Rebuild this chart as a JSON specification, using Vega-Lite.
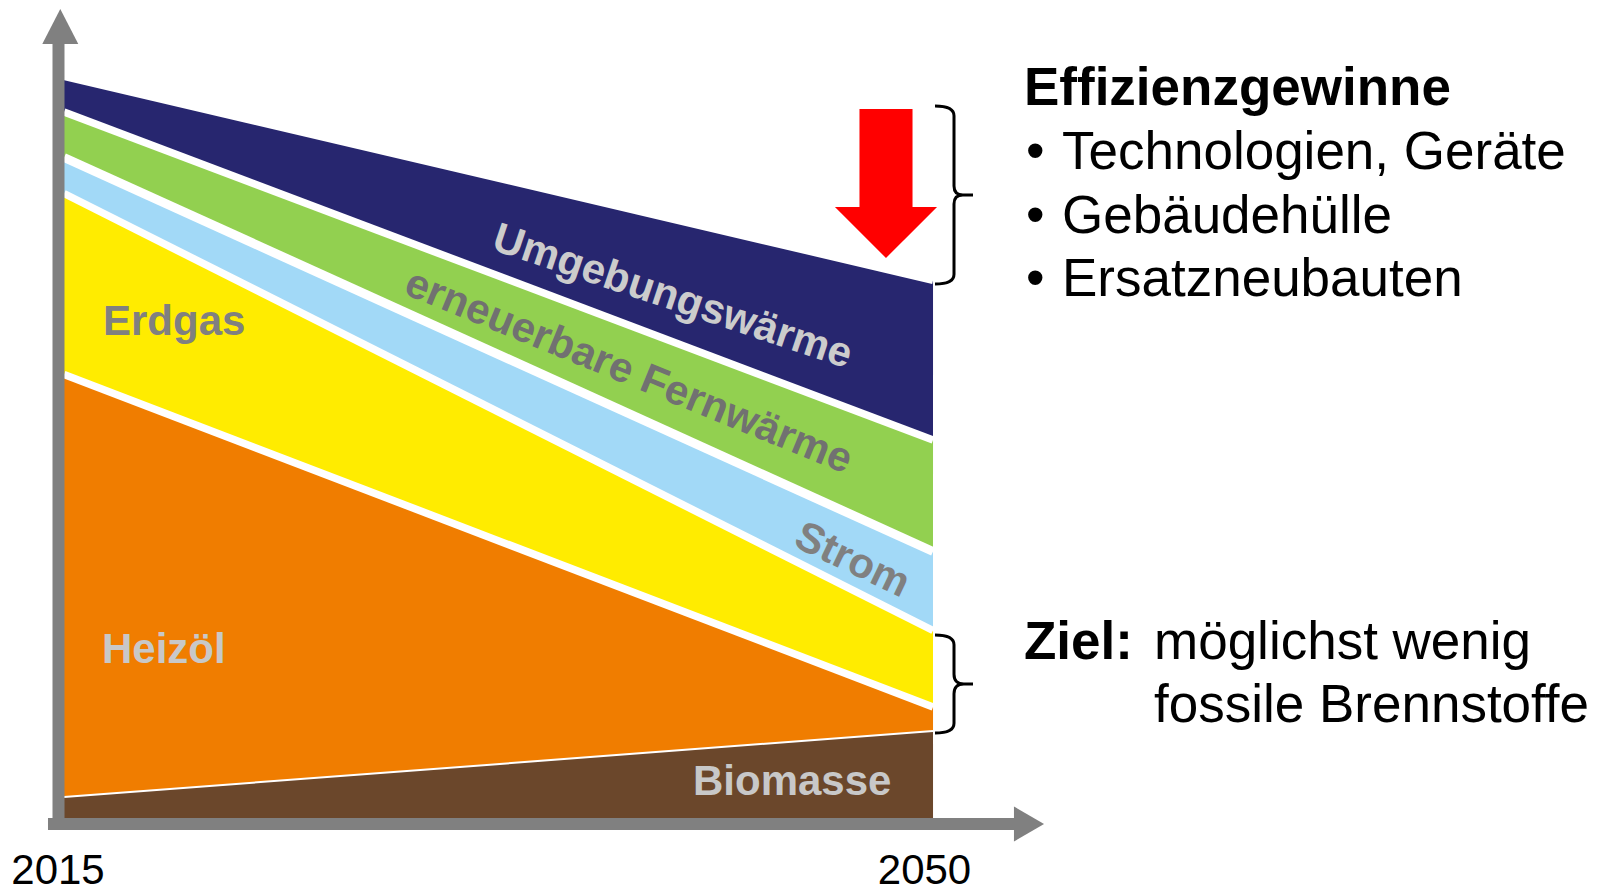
{
  "$schema": "https://vega.github.io/schema/vega-lite/v6.json",
  "width": 1601,
  "height": 893,
  "autosize": "none",
  "padding": 0,
  "background": "#ffffff",
  "config": {"view": {"stroke": null}},
  "datasets": {
    "energy": [
      {"year": 2015, "series": "Biomasse", "ord": 1, "value": 21},
      {"year": 2015, "series": "Heizöl", "ord": 2, "value": 422.5},
      {"year": 2015, "series": "Erdgas", "ord": 3, "value": 181},
      {"year": 2015, "series": "Strom", "ord": 4, "value": 36},
      {"year": 2015, "series": "erneuerbare Fernwärme", "ord": 5, "value": 45.5},
      {"year": 2015, "series": "Umgebungswärme", "ord": 6, "value": 35.75},
      {"year": 2050, "series": "Biomasse", "ord": 1, "value": 87},
      {"year": 2050, "series": "Heizöl", "ord": 2, "value": 24},
      {"year": 2050, "series": "Erdgas", "ord": 3, "value": 76.5},
      {"year": 2050, "series": "Strom", "ord": 4, "value": 79},
      {"year": 2050, "series": "erneuerbare Fernwärme", "ord": 5, "value": 111.5},
      {"year": 2050, "series": "Umgebungswärme", "ord": 6, "value": 159.75}
    ]
  },
  "layer": [
    {
      "data": {"name": "energy"},
      "transform": [{"stack": "value", "groupby": ["year"], "sort": [{"field": "ord", "order": "ascending"}], "as": ["v0", "v1"]}],
      "mark": {"type": "area", "opacity": 1},
      "encoding": {
        "x": {"field": "year", "type": "quantitative", "scale": {"domain": [2012.422, 2076.903], "nice": false, "zero": false}, "axis": null},
        "y": {"field": "v1", "type": "quantitative", "scale": {"domain": [-75, 818], "nice": false, "zero": false}, "axis": null},
        "y2": {"field": "v0"},
        "color": {"field": "series", "type": "nominal", "scale": {"domain": ["Biomasse", "Heizöl", "Erdgas", "Strom", "erneuerbare Fernwärme", "Umgebungswärme"], "range": ["#6b472b", "#f07d00", "#ffec00", "#a2d9f7", "#92d050", "#27266f"]}, "legend": null}
      }
    },
    {
      "data": {"name": "energy"},
      "transform": [{"stack": "value", "groupby": ["year"], "sort": [{"field": "ord", "order": "ascending"}], "as": ["v0", "v1"]}],
      "mark": {"type": "line", "color": "#ffffff", "strokeCap": "butt"},
      "encoding": {
        "x": {"field": "year", "type": "quantitative", "scale": {"domain": [2012.422, 2076.903], "nice": false, "zero": false}, "axis": null},
        "y": {"field": "v1", "type": "quantitative", "scale": {"domain": [-75, 818], "nice": false, "zero": false}, "axis": null},
        "detail": {"field": "series", "type": "nominal"},
        "strokeWidth": {"condition": [{"test": "datum.series === 'Biomasse'", "value": 2}, {"test": "datum.series === 'Strom'", "value": 9}], "value": 7.5}
      }
    },
    {
      "data": {"values": [{"x": 2014.778, "y": -12, "y2": 778}]},
      "mark": {"type": "rule", "color": "#808080", "strokeWidth": 12},
      "encoding": {
        "x": {"field": "x", "type": "quantitative", "scale": {"domain": [2012.422, 2076.903], "nice": false, "zero": false}, "axis": null},
        "y": {"field": "y", "type": "quantitative", "scale": {"domain": [-75, 818], "nice": false, "zero": false}, "axis": null},
        "y2": {"field": "y2"}
      }
    },
    {
      "data": {"values": [{"x": 2014.355, "x2": 2053.463, "y": -6}]},
      "mark": {"type": "rule", "color": "#808080", "strokeWidth": 12},
      "encoding": {
        "x": {"field": "x", "type": "quantitative", "scale": {"domain": [2012.422, 2076.903], "nice": false, "zero": false}, "axis": null},
        "x2": {"field": "x2"},
        "y": {"field": "y", "type": "quantitative", "scale": {"domain": [-75, 818], "nice": false, "zero": false}, "axis": null}
      }
    },
    {
      "data": {"values": [{"x": 2014.85, "y": 791.5}]},
      "mark": {"type": "point", "shape": "M-1,0.97L0,-0.97L1,0.97Z", "filled": true, "color": "#808080", "opacity": 1, "size": 1296, "strokeWidth": 0},
      "encoding": {
        "x": {"field": "x", "type": "quantitative", "scale": {"domain": [2012.422, 2076.903], "nice": false, "zero": false}, "axis": null},
        "y": {"field": "y", "type": "quantitative", "scale": {"domain": [-75, 818], "nice": false, "zero": false}, "axis": null}
      }
    },
    {
      "data": {"values": [{"x": 2053.866, "y": -6}]},
      "mark": {"type": "point", "shape": "M-0.86,-1L0.86,0L-0.86,1Z", "filled": true, "color": "#808080", "opacity": 1, "size": 1225, "strokeWidth": 0},
      "encoding": {
        "x": {"field": "x", "type": "quantitative", "scale": {"domain": [2012.422, 2076.903], "nice": false, "zero": false}, "axis": null},
        "y": {"field": "y", "type": "quantitative", "scale": {"domain": [-75, 818], "nice": false, "zero": false}, "axis": null}
      }
    },
    {
      "data": {"values": [{"x": 2048.106, "y": 634.5}]},
      "mark": {"type": "point", "shape": "M-0.356,-1L0.356,-1L0.356,0.315L0.685,0.315L0,1L-0.685,0.315L-0.356,0.315Z", "filled": true, "color": "#ff0000", "opacity": 1, "size": 22201, "strokeWidth": 0},
      "encoding": {
        "x": {"field": "x", "type": "quantitative", "scale": {"domain": [2012.422, 2076.903], "nice": false, "zero": false}, "axis": null},
        "y": {"field": "y", "type": "quantitative", "scale": {"domain": [-75, 818], "nice": false, "zero": false}, "axis": null}
      }
    },
    {
      "data": {"values": [{"x": 2050.845, "y": 623}]},
      "mark": {"type": "point", "shape": "M-0.2135,-1Q0,-1 0,-0.89L0,-0.1Q0,0 0.1,0L0.2135,0M0.1,0Q0,0 0,0.1L0,0.89Q0,1 -0.2135,1", "filled": false, "color": "#000000", "opacity": 1, "size": 31684, "strokeWidth": 3},
      "encoding": {
        "x": {"field": "x", "type": "quantitative", "scale": {"domain": [2012.422, 2076.903], "nice": false, "zero": false}, "axis": null},
        "y": {"field": "y", "type": "quantitative", "scale": {"domain": [-75, 818], "nice": false, "zero": false}, "axis": null}
      }
    },
    {
      "data": {"values": [{"x": 2050.845, "y": 134}]},
      "mark": {"type": "point", "shape": "M-0.388,-1Q0,-1 0,-0.8L0,-0.2Q0,0 0.2,0L0.388,0M0.2,0Q0,0 0,0.2L0,0.8Q0,1 -0.388,1", "filled": false, "color": "#000000", "opacity": 1, "size": 9604, "strokeWidth": 3},
      "encoding": {
        "x": {"field": "x", "type": "quantitative", "scale": {"domain": [2012.422, 2076.903], "nice": false, "zero": false}, "axis": null},
        "y": {"field": "y", "type": "quantitative", "scale": {"domain": [-75, 818], "nice": false, "zero": false}, "axis": null}
      }
    },
    {
      "data": {"values": [{"label": "Erdgas", "x": 2016.57, "y": 483}]},
      "mark": {"type": "text", "font": "Liberation Sans", "fontWeight": "bold", "fontSize": 42, "color": "#808080", "align": "left", "baseline": "alphabetic"},
      "encoding": {
        "x": {"field": "x", "type": "quantitative", "scale": {"domain": [2012.422, 2076.903], "nice": false, "zero": false}, "axis": null},
        "y": {"field": "y", "type": "quantitative", "scale": {"domain": [-75, 818], "nice": false, "zero": false}, "axis": null},
        "text": {"field": "label"}
      }
    },
    {
      "data": {"values": [{"label": "Heizöl", "x": 2016.53, "y": 155}, {"label": "Biomasse", "x": 2040.333, "y": 23}]},
      "mark": {"type": "text", "font": "Liberation Sans", "fontWeight": "bold", "fontSize": 42, "color": "#c8c8c8", "align": "left", "baseline": "alphabetic"},
      "encoding": {
        "x": {"field": "x", "type": "quantitative", "scale": {"domain": [2012.422, 2076.903], "nice": false, "zero": false}, "axis": null},
        "y": {"field": "y", "type": "quantitative", "scale": {"domain": [-75, 818], "nice": false, "zero": false}, "axis": null},
        "text": {"field": "label"}
      }
    },
    {
      "data": {"values": [{"label": "Strom", "x": 2046.75, "y": 258}]},
      "mark": {"type": "text", "font": "Liberation Sans", "fontWeight": "bold", "fontSize": 42, "color": "#808080", "align": "center", "baseline": "middle", "angle": 25.5},
      "encoding": {
        "x": {"field": "x", "type": "quantitative", "scale": {"domain": [2012.422, 2076.903], "nice": false, "zero": false}, "axis": null},
        "y": {"field": "y", "type": "quantitative", "scale": {"domain": [-75, 818], "nice": false, "zero": false}, "axis": null},
        "text": {"field": "label"}
      }
    },
    {
      "data": {"values": [{"label": "erneuerbare Fernwärme", "x": 2037.743, "y": 446.5}]},
      "mark": {"type": "text", "font": "Liberation Sans", "fontWeight": "bold", "fontSize": 42, "color": "#717171", "align": "center", "baseline": "middle", "angle": 22.2},
      "encoding": {
        "x": {"field": "x", "type": "quantitative", "scale": {"domain": [2012.422, 2076.903], "nice": false, "zero": false}, "axis": null},
        "y": {"field": "y", "type": "quantitative", "scale": {"domain": [-75, 818], "nice": false, "zero": false}, "axis": null},
        "text": {"field": "label"}
      }
    },
    {
      "data": {"values": [{"label": "Umgebungswärme", "x": 2039.507, "y": 521.5}]},
      "mark": {"type": "text", "font": "Liberation Sans", "fontWeight": "bold", "fontSize": 42, "color": "#cccccc", "align": "center", "baseline": "middle", "angle": 18.5},
      "encoding": {
        "x": {"field": "x", "type": "quantitative", "scale": {"domain": [2012.422, 2076.903], "nice": false, "zero": false}, "axis": null},
        "y": {"field": "y", "type": "quantitative", "scale": {"domain": [-75, 818], "nice": false, "zero": false}, "axis": null},
        "text": {"field": "label"}
      }
    },
    {
      "data": {"values": [{"label": "Effizienzgewinne", "x": 2053.664, "y": 713}, {"label": "Ziel:", "x": 2053.664, "y": 159}]},
      "mark": {"type": "text", "font": "Liberation Sans", "fontWeight": "bold", "fontSize": 53, "color": "#000000", "align": "left", "baseline": "alphabetic"},
      "encoding": {
        "x": {"field": "x", "type": "quantitative", "scale": {"domain": [2012.422, 2076.903], "nice": false, "zero": false}, "axis": null},
        "y": {"field": "y", "type": "quantitative", "scale": {"domain": [-75, 818], "nice": false, "zero": false}, "axis": null},
        "text": {"field": "label"}
      }
    },
    {
      "data": {"values": [
        {"label": "•", "x": 2053.745, "y": 649.5},
        {"label": "•", "x": 2053.745, "y": 585},
        {"label": "•", "x": 2053.745, "y": 522},
        {"label": "Technologien, Geräte", "x": 2055.194, "y": 649.5},
        {"label": "Gebäudehülle", "x": 2055.194, "y": 585},
        {"label": "Ersatzneubauten", "x": 2055.194, "y": 522},
        {"label": "möglichst wenig", "x": 2058.9, "y": 159},
        {"label": "fossile Brennstoffe", "x": 2058.9, "y": 96}
      ]},
      "mark": {"type": "text", "font": "Liberation Sans", "fontSize": 53, "color": "#000000", "align": "left", "baseline": "alphabetic"},
      "encoding": {
        "x": {"field": "x", "type": "quantitative", "scale": {"domain": [2012.422, 2076.903], "nice": false, "zero": false}, "axis": null},
        "y": {"field": "y", "type": "quantitative", "scale": {"domain": [-75, 818], "nice": false, "zero": false}, "axis": null},
        "text": {"field": "label"}
      }
    },
    {
      "data": {"values": [{"label": "2015", "x": 2014.758, "y": -66}, {"label": "2050", "x": 2049.657, "y": -66}]},
      "mark": {"type": "text", "font": "Liberation Sans", "fontSize": 42, "color": "#000000", "align": "center", "baseline": "alphabetic"},
      "encoding": {
        "x": {"field": "x", "type": "quantitative", "scale": {"domain": [2012.422, 2076.903], "nice": false, "zero": false}, "axis": null},
        "y": {"field": "y", "type": "quantitative", "scale": {"domain": [-75, 818], "nice": false, "zero": false}, "axis": null},
        "text": {"field": "label"}
      }
    }
  ]
}
